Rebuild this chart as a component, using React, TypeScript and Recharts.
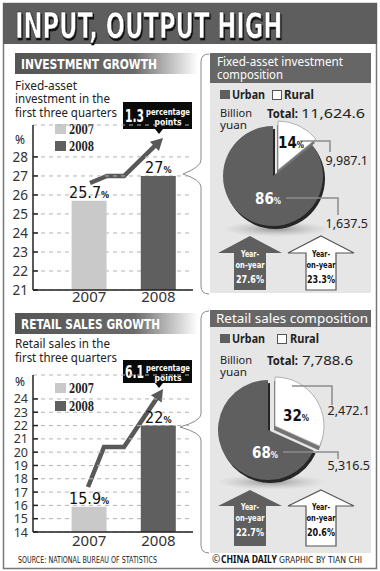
import React from 'react';
import { BarChart, Bar, XAxis, YAxis, CartesianGrid, Cell, LabelList, PieChart, Pie } from 'recharts';

// ---------- data ----------
const years = ['2007', '2008'];
const investmentGrowth = [25.7, 27];
const retailGrowth = [15.9, 22];
const investmentTicks = [21, 22, 23, 24, 25, 26, 27, 28];
const retailTicks = [14, 15, 16, 17, 18, 19, 20, 21, 22, 23, 24];
const investmentDiff = '1.3';
const retailDiff = '6.1';

const investmentUrban = 9987.1;
const investmentRural = 1637.5;
const retailUrban = 5316.5;
const retailRural = 2472.1;
const investmentTotal = '11,624.6';
const retailTotal = '7,788.6';
const investmentValueLabels = ['9,987.1', '1,637.5'];
const retailValueLabels = ['2,472.1', '5,316.5'];
const investmentYoY = ['27.6%', '23.3%'];
const retailYoY = ['22.7%', '20.6%'];

const investmentBars = years.map((y, i) => ({ year: y, value: investmentGrowth[i] }));
const retailBars = years.map((y, i) => ({ year: y, value: retailGrowth[i] }));
const investmentPie = [
  { name: 'Rural', value: investmentRural },
  { name: 'Urban', value: investmentUrban },
];
const retailPie = [
  { name: 'Rural', value: retailRural },
  { name: 'Urban', value: retailUrban },
];

// ---------- styles ----------
const COND = "'DejaVu Sans Condensed', 'DejaVu Sans', sans-serif";
const BODY = "'Noto Sans', 'Open Sans', sans-serif";
const SERIF = "'DejaVu Serif', 'Liberation Serif', serif";
const LIGHT = '#c9c9c9';
const DARK = '#5f5f5f';
const barColors = [LIGHT, DARK];
const PANEL = '#e6e6e6';

const pct = (part: number, whole: number) => Math.round((part / whole) * 100);

const YTick = (props: any) => {
  const { x, y, payload, size } = props;
  return (
    <g>
      <line x1={x + 5} x2={x + 10} y1={y} y2={y} stroke="#222" strokeWidth={1.5} />
      <text x={x} y={y} dy={size * 0.36} textAnchor="end" fontSize={size} fill="#333" fontFamily={BODY}>
        {payload.value}
      </text>
    </g>
  );
};

const BarValueLabel = (props: any) => {
  const { x, y, width, value } = props;
  return (
    <text x={x + width / 2} y={y - 3} textAnchor="middle" fontFamily={COND} fontSize={16} fill="#111">
      <tspan>{value}</tspan>
      <tspan fontSize={9} fontWeight="bold">%</tspan>
    </text>
  );
};

function GrowthChart({ data, domain, ticks, top, height, tickMargin, tickSize }: any) {
  return (
    <div style={{ position: 'absolute', left: 0, top }}>
      <BarChart width={200} height={height} data={data} margin={{ top: 10, right: 7, bottom: 0, left: 0 }}>
        <CartesianGrid vertical={false} strokeDasharray="4 4" stroke="#b4b4b4" />
        <XAxis
          dataKey="year"
          height={20}
          padding={{ left: 21.6, right: 0 }}
          tickLine={false}
          tickSize={0}
          tickMargin={tickMargin}
          axisLine={{ stroke: '#222', strokeWidth: 1.5 }}
          tick={{ fontSize: 15, fill: '#333', fontFamily: BODY }}
        />
        <YAxis
          width={33}
          domain={domain}
          ticks={ticks}
          interval={0}
          tickLine={false}
          tickSize={0}
          tickMargin={5}
          axisLine={{ stroke: '#222', strokeWidth: 1.5 }}
          tick={<YTick size={tickSize} />}
          allowDataOverflow
        />
        <Bar dataKey="value" barSize={35} isAnimationActive={false}>
          {data.map((d: any, i: number) => (
            <Cell key={d.year} fill={barColors[i]} />
          ))}
          <LabelList dataKey="value" content={<BarValueLabel />} />
        </Bar>
      </BarChart>
    </div>
  );
}

function CompositionPie({ data, top, urbanC, ruralC }: any) {
  const hidden = 'rgba(0,0,0,0)';
  const common = {
    data,
    dataKey: 'value',
    startAngle: 90,
    endAngle: -270,
    stroke: 'none',
    isAnimationActive: false,
    label: false,
    labelLine: false,
  } as any;
  return (
    <div style={{ position: 'absolute', left: 200, top }}>
      <PieChart width={175} height={150} margin={{ top: 0, right: 0, bottom: 0, left: 0 }}>
        <Pie {...common} cx={urbanC[0] + 2} cy={urbanC[1] + 3} outerRadius={50}>
          <Cell fill={hidden} />
          <Cell fill="#262626" />
        </Pie>
        <Pie {...common} cx={urbanC[0]} cy={urbanC[1]} outerRadius={50}>
          <Cell fill={hidden} />
          <Cell fill={DARK} />
        </Pie>
        <Pie {...common} cx={ruralC[0] - 1} cy={ruralC[1] + 4} outerRadius={49}>
          <Cell fill="#737373" />
          <Cell fill={hidden} />
        </Pie>
        <Pie {...common} cx={ruralC[0]} cy={ruralC[1]} outerRadius={49}>
          <Cell fill="#ffffff" stroke="#a0a0a0" strokeWidth={0.8} />
          <Cell fill={hidden} />
        </Pie>
      </PieChart>
    </div>
  );
}

function barArrow(points: number[][], headLen = 12, headHalf = 6.5) {
  const n = points.length;
  const [tx, ty] = points[n - 1];
  const [px, py] = points[n - 2];
  const L = Math.hypot(tx - px, ty - py);
  const ux = (tx - px) / L;
  const uy = (ty - py) / L;
  const bx = tx - ux * headLen;
  const by = ty - uy * headLen;
  const pts = points.slice(0, n - 1).concat([[bx + ux * 1, by + uy * 1]]);
  const d = 'M ' + pts.map((p) => p.join(' ')).join(' L ');
  const head = `${tx},${ty} ${bx - uy * headHalf},${by + ux * headHalf} ${bx + uy * headHalf},${by - ux * headHalf}`;
  return (
    <g>
      <path d={d} fill="none" stroke="#585858" strokeWidth={4.5} strokeLinejoin="miter" />
      <polygon points={head} fill="#585858" />
    </g>
  );
}

function Callout({ x, y, w, h, big, bigSize }: any) {
  const pointerX = x + 36;
  return (
    <g>
      <rect x={x} y={y} width={w} height={h} fill="#0a0a0a" />
      <polygon points={`${pointerX - 4},${y + h} ${pointerX + 4},${y + h} ${pointerX},${y + h + 5}`} fill="#0a0a0a" />
      <text x={x + 2} y={y + h / 2 + 6} fontFamily={COND} fontWeight="bold" fontSize={bigSize} fill="#fff" textLength={19} lengthAdjust="spacingAndGlyphs">
        {big}
      </text>
      <text x={x + 23} y={y + h / 2 - 1} fontFamily={COND} fontWeight="bold" fontSize={8.5} fill="#fff" textLength={44} lengthAdjust="spacingAndGlyphs">
        percentage
      </text>
      <text x={x + 45} y={y + h / 2 + 9} textAnchor="middle" fontFamily={COND} fontWeight="bold" fontSize={8.5} fill="#fff">
        points
      </text>
    </g>
  );
}

function YoYArrow({ cx, tip, base, bottom, headHalf, shaftHalf, dark, value }: any) {
  const pts = [
    [cx, tip],
    [cx + headHalf, base],
    [cx + shaftHalf, base],
    [cx + shaftHalf, bottom],
    [cx - shaftHalf, bottom],
    [cx - shaftHalf, base],
    [cx - headHalf, base],
  ]
    .map((p) => p.join(','))
    .join(' ');
  const col = dark ? '#fff' : '#111';
  return (
    <g>
      <polygon points={pts} fill={dark ? DARK : '#fff'} stroke={dark ? 'none' : '#555'} strokeWidth={1.2} />
      <g textAnchor="middle" fontFamily={COND} fontWeight="bold" fontSize={9.5} fill={col}>
        <text x={cx} y={base + 4} textLength={18} lengthAdjust="spacingAndGlyphs">Year-</text>
        <text x={cx} y={base + 15} textLength={29} lengthAdjust="spacingAndGlyphs">on-year</text>
        <text x={cx} y={base + 30} fontSize={10.5} textLength={28} lengthAdjust="spacingAndGlyphs">{value}</text>
      </g>
    </g>
  );
}

function PctLabel({ x, y, value, color }: any) {
  return (
    <text x={x} y={y} textAnchor="middle" fontFamily={COND} fontWeight="bold" fontSize={15} fill={color}>
      <tspan>{value}</tspan>
      <tspan fontSize={8}>%</tspan>
    </text>
  );
}

export default function App() {
  const invRuralPct = pct(investmentRural, investmentRural + investmentUrban);
  const invUrbanPct = pct(investmentUrban, investmentRural + investmentUrban);
  const retRuralPct = pct(retailRural, retailRural + retailUrban);
  const retUrbanPct = pct(retailUrban, retailRural + retailUrban);

  return (
    <div style={{ position: 'absolute', left: 0, top: 0, width: 380, height: 571, background: '#fff', overflow: 'hidden' }}>
      {/* background decorations */}
      <svg width={380} height={571} style={{ position: 'absolute', left: 0, top: 0 }}>
        <defs>
          <linearGradient id="hdr" x1="0" x2="1" y1="0" y2="0">
            <stop offset="0" stopColor="#555" />
            <stop offset="0.65" stopColor="#6a6a6a" />
            <stop offset="1" stopColor="#ffffff" />
          </linearGradient>
          <radialGradient id="shadow">
            <stop offset="0" stopColor="#8a8a8a" stopOpacity="0.9" />
            <stop offset="1" stopColor="#bdbdbd" stopOpacity="0" />
          </radialGradient>
          <filter id="titleShadow" x="-5%" y="-20%" width="110%" height="150%">
            <feDropShadow dx="1.5" dy="2" stdDeviation="0.6" floodColor="#111" floodOpacity="1" />
          </filter>
        </defs>
        <rect x={3.5} y={3.5} width={373} height={565} fill="#fff" stroke="#777" strokeWidth={1.5} />
        <rect x={3} y={3} width={374} height={41} fill="#5e5e5e" />
        <g transform="translate(15 37.5) scale(0.72 1)">
          <text x={0} y={0} fontFamily={COND} fontWeight="bold" fontSize={35} fill="#fff" stroke="#2a2a2a" strokeWidth={0.6} filter="url(#titleShadow)">
            INPUT, OUTPUT HIGH
          </text>
        </g>

        {/* section headers */}
        <rect x={15} y={53} width={183} height={21} fill="url(#hdr)" />
        <text x={21} y={69} fontFamily={COND} fontWeight="bold" fontSize={14.5} fill="#fff" textLength={136} lengthAdjust="spacingAndGlyphs">
          INVESTMENT GROWTH
        </text>
        <rect x={15} y={313} width={183} height={21} fill="url(#hdr)" />
        <text x={21} y={329} fontFamily={COND} fontWeight="bold" fontSize={14.5} fill="#fff" textLength={139} lengthAdjust="spacingAndGlyphs">
          RETAIL SALES GROWTH
        </text>

        {/* left descriptions */}
        <g fontFamily={BODY} fontSize={12} fill="#222">
          <text x={15} y={89.5} textLength={62} lengthAdjust="spacingAndGlyphs">Fixed-asset</text>
          <text x={15} y={102.5} textLength={95} lengthAdjust="spacingAndGlyphs">investment in the</text>
          <text x={15} y={116.5} textLength={102} lengthAdjust="spacingAndGlyphs">first three quarters</text>
          <text x={15} y={348} textLength={95} lengthAdjust="spacingAndGlyphs">Retail sales in the</text>
          <text x={15} y={362} textLength={102} lengthAdjust="spacingAndGlyphs">first three quarters</text>
          <text x={15} y={143.5} fontSize={12}>%</text>
          <text x={15} y={385.5} fontSize={12}>%</text>
        </g>

        {/* bar legends */}
        <g fontFamily={SERIF} fontWeight="bold" fontSize={12} fill="#222">
          <rect x={55} y={124} width={11} height={10} fill={LIGHT} />
          <text x={69} y={134} textLength={25} lengthAdjust="spacingAndGlyphs">{years[0]}</text>
          <rect x={55} y={141} width={11} height={10} fill={DARK} />
          <text x={69} y={151} textLength={25} lengthAdjust="spacingAndGlyphs">{years[1]}</text>
          <rect x={55} y={383} width={11} height={10} fill={LIGHT} />
          <text x={69} y={393} textLength={25} lengthAdjust="spacingAndGlyphs">{years[0]}</text>
          <rect x={55} y={401} width={11} height={10} fill={DARK} />
          <text x={69} y={411} textLength={25} lengthAdjust="spacingAndGlyphs">{years[1]}</text>
        </g>

        {/* braces */}
        <path d="M 209 54 Q 201 54 201 62 L 201 160 Q 201 167 183 174 Q 201 180 201 187 L 201 286 Q 201 294 209 294" fill="none" stroke="#8a8a8a" strokeWidth={1} />
        <path d="M 209 311 Q 201 311 201 319 L 201 414 Q 201 421 180 427 Q 201 433 201 440 L 201 545 Q 201 553 209 553" fill="none" stroke="#8a8a8a" strokeWidth={1} />

        {/* right panels */}
        <rect x={210} y={53} width={161} height={240} fill={PANEL} />
        <rect x={210} y={53} width={161} height={30} fill="#666" />
        <g fontFamily={BODY} fontSize={12.5} fill="#fff">
          <text x={217} y={66} textLength={126} lengthAdjust="spacingAndGlyphs">Fixed-asset investment</text>
          <text x={217} y={79} textLength={66} lengthAdjust="spacingAndGlyphs">composition</text>
        </g>
        <rect x={210} y={310} width={161} height={243} fill={PANEL} />
        <rect x={210} y={310} width={161} height={17} fill="#666" />
        <text x={216} y={323} fontFamily={BODY} fontSize={13} fill="#fff" textLength={152} lengthAdjust="spacingAndGlyphs">
          Retail sales composition
        </text>

        {/* urban / rural legends */}
        <g fontFamily={BODY} fontWeight="bold" fontSize={13} fill="#222">
          <rect x={220} y={90} width={10} height={9} fill={DARK} />
          <text x={232} y={99} textLength={33} lengthAdjust="spacingAndGlyphs">Urban</text>
          <rect x={272.5} y={90.5} width={9} height={9} fill="#fff" stroke="#555" />
          <text x={284} y={99} textLength={30} lengthAdjust="spacingAndGlyphs">Rural</text>
          <rect x={220} y={334} width={10} height={9} fill={DARK} />
          <text x={232} y={343} textLength={33} lengthAdjust="spacingAndGlyphs">Urban</text>
          <rect x={277.5} y={334.5} width={9} height={9} fill="#fff" stroke="#555" />
          <text x={290} y={343} textLength={29} lengthAdjust="spacingAndGlyphs">Rural</text>
        </g>
        <g fontFamily={BODY} fontSize={11.5} fill="#222">
          <text x={220} y={116.5} textLength={32} lengthAdjust="spacingAndGlyphs">Billion</text>
          <text x={220} y={129} textLength={27} lengthAdjust="spacingAndGlyphs">yuan</text>
          <text x={267} y={117.5} fontSize={12} fontWeight="bold" textLength={31} lengthAdjust="spacingAndGlyphs">Total:</text>
          <text x={301} y={117.5} fontSize={12} textLength={64} lengthAdjust="spacingAndGlyphs">{investmentTotal}</text>
          <text x={220} y={363.5} textLength={32} lengthAdjust="spacingAndGlyphs">Billion</text>
          <text x={220} y={376} textLength={27} lengthAdjust="spacingAndGlyphs">yuan</text>
          <text x={267} y={364.5} fontSize={12} fontWeight="bold" textLength={31} lengthAdjust="spacingAndGlyphs">Total:</text>
          <text x={302} y={364.5} fontSize={12} textLength={51} lengthAdjust="spacingAndGlyphs">{retailTotal}</text>
        </g>

        {/* pie shadows */}
        <ellipse cx={276} cy={229} rx={55} ry={8} fill="url(#shadow)" />
        <ellipse cx={271} cy={482} rx={55} ry={8} fill="url(#shadow)" />

        {/* year-on-year arrows */}
        <YoYArrow cx={250} tip={236} base={253} bottom={290} headHalf={32} shaftHalf={16} dark value={investmentYoY[0]} />
        <YoYArrow cx={321} tip={236} base={253} bottom={290} headHalf={33} shaftHalf={15} value={investmentYoY[1]} />
        <YoYArrow cx={250} tip={490} base={506} bottom={546} headHalf={32} shaftHalf={16} dark value={retailYoY[0]} />
        <YoYArrow cx={321} tip={490} base={506} bottom={546} headHalf={33} shaftHalf={15} value={retailYoY[1]} />

        {/* callouts and growth arrows */}
        <Callout x={123} y={102} w={69} h={27} big={investmentDiff} bigSize={18} />
        <Callout x={123} y={360} w={69} h={23} big={retailDiff} bigSize={18} />
        {barArrow([[90, 183], [107, 176], [124, 176], [163, 138]])}
        {barArrow([[88, 487], [104, 447], [124, 447], [163, 389]])}

        {/* footer */}
        <text x={18} y={563} fontFamily={COND} fontSize={8.5} fill="#222" textLength={139} lengthAdjust="spacingAndGlyphs">
          SOURCE: NATIONAL BUREAU OF STATISTICS
        </text>
        <text x={212} y={563} fontFamily={BODY} fontSize={10} fill="#222">©</text>
        <text x={221} y={563} fontFamily={BODY} fontWeight="bold" fontSize={10.5} fill="#111" textLength={56} lengthAdjust="spacingAndGlyphs">
          CHINA DAILY
        </text>
        <text x={279} y={563} fontFamily={COND} fontSize={9} fill="#222" textLength={83} lengthAdjust="spacingAndGlyphs">
          GRAPHIC BY TIAN CHI
        </text>
      </svg>

      <GrowthChart data={investmentBars} domain={[21, 29.68]} ticks={investmentTicks} top={115} height={195} tickMargin={1} tickSize={13.5} />
      <GrowthChart data={retailBars} domain={[14, 25.8]} ticks={retailTicks} top={365} height={187} tickMargin={3} tickSize={12.5} />

      <CompositionPie data={investmentPie} top={100} urbanC={[73, 76]} ruralC={[78, 70]} />
      <CompositionPie data={retailPie} top={360} urbanC={[68, 70]} ruralC={[75, 66]} />

      {/* foreground annotations */}
      <svg width={380} height={571} style={{ position: 'absolute', left: 0, top: 0, pointerEvents: 'none' }}>
        <g fill="none" stroke="#8c8c8c" strokeWidth={1.5}>
          <path d="M 300 141 H 330 V 152" />
          <path d="M 286 198 H 338 V 215" />
          <path d="M 292 386 H 332 V 405" />
          <path d="M 283 452 H 338 V 459" />
        </g>
        <PctLabel x={291} y={147.5} value={invRuralPct} color="#111" />
        <PctLabel x={268} y={204} value={invUrbanPct} color="#fff" />
        <PctLabel x={296} y={420.5} value={retRuralPct} color="#111" />
        <PctLabel x={265} y={458} value={retUrbanPct} color="#fff" />
        <g fontFamily={BODY} fontSize={12.5} fill="#222" textAnchor="end">
          <text x={368} y={164.5}>{investmentValueLabels[0]}</text>
          <text x={368} y={227.5}>{investmentValueLabels[1]}</text>
          <text x={370} y={414.5}>{retailValueLabels[0]}</text>
          <text x={370} y={469.5}>{retailValueLabels[1]}</text>
        </g>
      </svg>
    </div>
  );
}
